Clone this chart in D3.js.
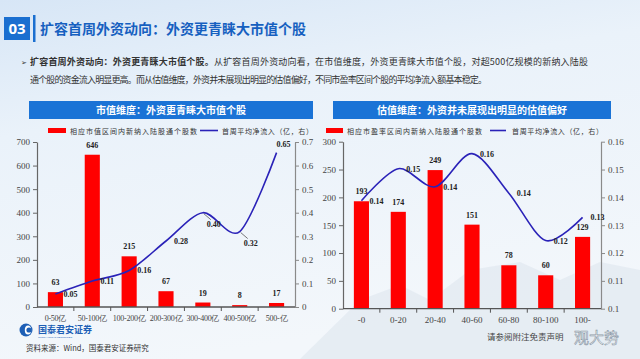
<!DOCTYPE html>
<html><head><meta charset="utf-8">
<script src="https://cdn.jsdelivr.net/npm/d3@7"></script>
<style>
html,body{margin:0;padding:0;width:640px;height:359px;overflow:hidden;}
svg{display:block;}
</style></head>
<body>
<svg id="c" width="640" height="359"></svg>
<script>
// ---------- data ----------
const capCategories = ["0-50亿","50-100亿","100-200亿","200-300亿","300-400亿","400-500亿","500-亿"];
const capCounts = [63, 646, 215, 67, 19, 8, 17];
const capInflow = [0.055, 0.11, 0.155, 0.28, 0.40, 0.32, 0.655];
const capInflowLabels = ["0.05","0.11","0.16","0.28","0.40","0.32","0.65"];
const capLabelPlace = ["right","right","right","right","below","below","above"];
const capLeftTicks = [0,100,200,300,400,500,600,700];
const capRightTicks = [0,0.1,0.2,0.3,0.4,0.5,0.6,0.7];

const peCategories = ["-0","0-20","20-40","40-60","60-80","80-100","100-"];
const peCounts = [193, 174, 249, 151, 78, 60, 129];
const peInflow = [0.1388, 0.1503, 0.1438, 0.1557, 0.1415, 0.1245, 0.1328];
const peInflowLabels = ["0.14","0.15","0.14","0.16","0.14","0.12","0.13"];
const peLabelPlace = ["right","right","right","right","right","right","right"];
const peLeftTicks = [0,50,100,150,200,250,300];
const peRightTicks = [0.1,0.11,0.12,0.13,0.14,0.15,0.16];

const pageTitle = "扩容首周外资动向：外资更青睐大市值个股";
const bodyBold = "扩容首周外资动向：外资更青睐大市值个股。";
const bodyLine1 = "从扩容首周外资动向看，在市值维度，外资更青睐大市值个股，对超500亿规模的新纳入陆股";
const bodyLine2 = "通个股的资金流入明显更高。而从估值维度，外资并未展现出明显的估值偏好，不同市盈率区间个股的平均净流入额基本稳定。";
const leftTitle = "市值维度：外资更青睐大市值个股";
const rightTitle = "估值维度：外资并未展现出明显的估值偏好";
const leftBarLegend = "相应市值区间内新纳入陆股通个股数";
const rightBarLegend = "相应市盈率区间内新纳入陆股通个股数";
const lineLegend = "首周平均净流入（亿，右）";

// ---------- drawing ----------
const svg = d3.select("#c");
const defs = svg.append("defs");
const bg = defs.append("linearGradient").attr("id","bg").attr("x1",0).attr("y1",0).attr("x2",0.3).attr("y2",1);
bg.append("stop").attr("offset","0%").attr("stop-color","#d7e6f6");
bg.append("stop").attr("offset","35%").attr("stop-color","#eaf2fa");
bg.append("stop").attr("offset","100%").attr("stop-color","#f3f7fb");
svg.append("rect").attr("width",640).attr("height",359).attr("fill","url(#bg)");

// faint mountains
svg.append("path")
  .attr("d","M300,359 L360,300 L400,285 L430,300 L470,270 L520,262 L560,280 L600,262 L640,270 L640,359 Z")
  .attr("fill","#dde6ee").attr("opacity",0.6);

const CJK = "'Noto Sans CJK SC','Noto Sans',sans-serif";
const SERIF = "'Liberation Serif','DejaVu Serif',serif";

// header
svg.append("rect").attr("x",4).attr("y",17).attr("width",26).attr("height",23).attr("fill","#1a6fd0");
svg.append("text").attr("x",17).attr("y",34).attr("text-anchor","middle").attr("fill","#fff")
  .attr("font-family","'Open Sans',sans-serif").attr("font-weight","bold").attr("font-size",15).text("03");
svg.append("rect").attr("x",33).attr("y",15).attr("width",2.5).attr("height",27).attr("fill","#1a6fd0");
svg.append("text").attr("x",40).attr("y",34).attr("fill","#1660c0")
  .attr("font-family",CJK).attr("font-weight","bold").attr("font-size",14).text(pageTitle);

// body text
svg.append("text").attr("x",21).attr("y",65).attr("fill","#333").attr("font-family",CJK).attr("font-size",7).text("➢");
const t1 = svg.append("text").attr("x",30).attr("y",65).attr("font-family",CJK).attr("font-size",9).attr("fill","#333")
  .attr("textLength",558).attr("lengthAdjust","spacing");
t1.append("tspan").attr("font-weight","bold").text(bodyBold);
t1.append("tspan").text(bodyLine1);
svg.append("text").attr("x",30).attr("y",83).attr("font-family",CJK).attr("font-size",9).attr("fill","#333")
  .attr("textLength",457).attr("lengthAdjust","spacing").text(bodyLine2);

function chart(o){
  const g = svg.append("g");
  // title bar
  g.append("rect").attr("x",o.tx0).attr("y",101).attr("width",o.tx1-o.tx0).attr("height",18).attr("fill","#1a73d6");
  g.append("text").attr("x",(o.tx0+o.tx1)/2).attr("y",114).attr("text-anchor","middle").attr("fill","#fff")
    .attr("font-family",CJK).attr("font-weight","bold").attr("font-size",10).text(o.title);

  const yL = d3.scaleLinear().domain(o.lDomain).range([o.y0,o.y1]);
  const yR = d3.scaleLinear().domain(o.rDomain).range([o.y0,o.y1]);
  const band = d3.scaleBand().domain(o.cats).range([o.x0,o.x1]);
  const cx = d => band(d)+band.bandwidth()/2;
  const bw = band.bandwidth()*0.41;

  // axes
  const axL = d3.axisLeft(yL).tickValues(o.lTicks).tickSize(4).tickSizeOuter(0);
  const axR = d3.axisRight(yR).tickValues(o.rTicks).tickSize(4).tickSizeOuter(0).tickFormat(d=>d3.format("")(+d.toFixed(2)));
  const styleAxis = (sel,col) => {
    sel.selectAll("path").attr("stroke",col).attr("stroke-width",1.2);
    sel.selectAll("line").attr("stroke",col).attr("stroke-width",1);
    sel.selectAll("text").attr("font-family",SERIF).attr("font-size",9).attr("fill","#444");
  };
  styleAxis(g.append("g").attr("transform",`translate(${o.x0},0)`).call(axL),"#666");
  styleAxis(g.append("g").attr("transform",`translate(${o.x1},0)`).call(axR),"#8a8a8a");

  // bars
  g.selectAll(".bar").data(o.counts).join("rect")
    .attr("x",(d,i)=>cx(o.cats[i])-bw/2).attr("width",bw)
    .attr("y",d=>yL(d)).attr("height",d=>o.y0-yL(d)).attr("fill","#ff0000");
  g.selectAll(".bl").data(o.counts).join("text")
    .attr("x",(d,i)=>cx(o.cats[i])).attr("y",d=>yL(d)-7).attr("text-anchor","middle")
    .attr("font-family",SERIF).attr("font-weight","bold").attr("font-size",8).attr("fill","#222").text(d=>d);

  // x axis
  const xa = g.append("g").attr("transform",`translate(0,${o.y0})`);
  xa.append("line").attr("x1",o.x0).attr("x2",o.x1).attr("stroke","#555").attr("stroke-width",1.3);
  xa.selectAll("line.t").data(o.cats.slice(1)).join("line").attr("class","t")
    .attr("x1",d=>band(d)).attr("x2",d=>band(d)).attr("y1",0).attr("y2",4).attr("stroke","#555");
  xa.selectAll("text").data(o.cats).join("text")
    .attr("x",d=>cx(d)).attr("y",14).attr("text-anchor","middle")
    .attr("font-family",SERIF).attr("font-size",o.xFont).attr("letter-spacing",o.xSpacing).attr("fill","#444").text(d=>d);

  // line
  const line = d3.line().x((d,i)=>cx(o.cats[i])).y(d=>yR(d)).curve(d3.curveCardinal.tension(0.1));
  g.append("path").datum(o.inflow).attr("d",line).attr("fill","none").attr("stroke","#2a22b8").attr("stroke-width",1.6);
  o.inflow.forEach((v,i)=>{
    const px = cx(o.cats[i]), py = yR(v);
    let lx, ly;
    if(o.place[i]==="right"){ lx = px+15; ly = py+3; }
    else if(o.place[i]==="below"){
      lx = px+11; ly = py+14;
      g.append("line").attr("x1",px+1).attr("y1",py+1).attr("x2",px+8).attr("y2",py+7).attr("stroke","#555").attr("stroke-width",0.8);
    }
    else { lx = px+7; ly = py-6; }
    g.append("text").attr("x",lx).attr("y",ly).attr("text-anchor","middle")
      .attr("font-family",SERIF).attr("font-weight","bold").attr("font-size",8).attr("fill","#222").text(o.labels[i]);
  });

  // legend
  const lg = g.append("g");
  lg.append("rect").attr("x",o.lg.r0).attr("y",128).attr("width",o.lg.r1-o.lg.r0).attr("height",5).attr("fill","#ff0000");
  lg.append("text").attr("x",o.lg.t0).attr("y",133.5).attr("font-family",CJK).attr("font-size",7).attr("fill","#333")
    .attr("textLength",o.lg.t1-o.lg.t0).attr("lengthAdjust","spacing").text(o.barLegend);
  lg.append("line").attr("x1",o.lg.l0).attr("x2",o.lg.l1).attr("y1",130.5).attr("y2",130.5).attr("stroke","#2a22b8").attr("stroke-width",1.6);
  lg.append("text").attr("x",o.lg.u0).attr("y",133.5).attr("font-family",CJK).attr("font-size",7).attr("fill","#333")
    .attr("textLength",o.lg.u1-o.lg.u0).attr("lengthAdjust","spacing").text(lineLegend);
}

chart({tx0:29,tx1:313,title:leftTitle,cats:capCategories,counts:capCounts,inflow:capInflow,labels:capInflowLabels,place:capLabelPlace,
  x0:37,x1:295,y0:307,y1:142,lDomain:[0,700],rDomain:[0,0.7],lTicks:capLeftTicks,rTicks:capRightTicks,xFont:8,xSpacing:-0.25,
  barLegend:leftBarLegend,lg:{r0:48,r1:66,t0:70,t1:197,l0:200,l1:218,u0:222,u1:313}});
chart({tx0:333,tx1:611,title:rightTitle,cats:peCategories,counts:peCounts,inflow:peInflow,labels:peInflowLabels,place:peLabelPlace,
  x0:343,x1:601,y0:308.7,y1:141.7,lDomain:[0,300],rDomain:[0.1,0.16],lTicks:peLeftTicks,rTicks:peRightTicks,xFont:9,xSpacing:0,
  barLegend:rightBarLegend,lg:{r0:326,r1:343,t0:347,t1:482,l0:490,l1:506,u0:512,u1:603}});

// footer
svg.append("circle").attr("cx",26).attr("cy",330).attr("r",6.5).attr("fill","#1d5fb6");
svg.append("ellipse").attr("cx",28).attr("cy",330).attr("rx",3.2).attr("ry",4.5).attr("fill","#fff");
svg.append("circle").attr("cx",29).attr("cy",330).attr("r",2.6).attr("fill","#1d5fb6");
svg.append("text").attr("x",38).attr("y",333).attr("font-family",CJK).attr("font-weight","bold").attr("font-size",9).attr("fill","#1d5fb6").text("国泰君安证券");
svg.append("text").attr("x",38).attr("y",337.5).attr("font-family","sans-serif").attr("font-size",2.5).attr("fill","#1d5fb6").text("GUOTAI JUNAN SECURITIES");
svg.append("text").attr("x",26).attr("y",351).attr("font-family",CJK).attr("font-size",7.5).attr("fill","#333").text("资料来源：Wind，国泰君安证券研究");
svg.append("text").attr("x",487).attr("y",340).attr("font-family",CJK).attr("font-size",8.5).attr("fill","#444").text("请参阅附注免责声明");
svg.append("text").attr("x",574).attr("y",343).attr("font-family",CJK).attr("font-size",15).attr("fill","#fff").attr("stroke","#8a98a6").attr("stroke-width",0.6).text("观大势");
</script>
</body></html>
